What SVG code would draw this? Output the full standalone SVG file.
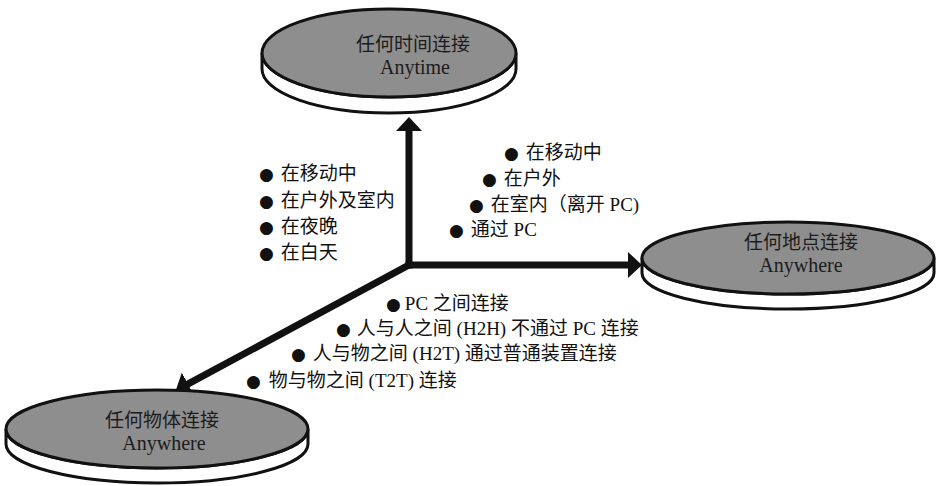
<svg xmlns="http://www.w3.org/2000/svg" width="936" height="486" viewBox="0 0 936 486">
<defs>
<style>
.rim{fill:#fff;stroke:#111;stroke-width:3}
.top{fill:#8e8e8e;stroke:#111;stroke-width:3}
.t{font-family:"Liberation Serif","Noto Sans CJK SC",serif;font-size:19px;fill:#111}
.dt{font-family:"Liberation Serif","Noto Sans CJK SC",serif;font-size:19px;fill:#1c1c1c;text-anchor:middle}
.de{font-family:"Liberation Serif",serif;font-size:20px;fill:#1c1c1c;text-anchor:middle}
.b{font-family:"DejaVu Sans",sans-serif;font-size:17px}
.arr{stroke:#111;stroke-width:7;fill:none;stroke-linecap:square;marker-end:url(#head)}
</style>
<marker id="head" viewBox="0 0 14 26" markerWidth="14" markerHeight="26" refX="0" refY="13" markerUnits="userSpaceOnUse" orient="auto">
<path d="M0,0 L14,13 L0,26 Z" fill="#111"/>
</marker>
</defs>

<g id="connectors">
<line class="arr" x1="409" y1="265" x2="409" y2="131"/>
<line class="arr" x1="409" y1="265" x2="628" y2="265"/>
<line class="arr" x1="409" y1="265" x2="188" y2="384"/>
</g>

<g id="node-anytime">
<path class="rim" d="M262,53 L262,69 A127,44 0 0 0 516,69 L516,53 A127,44 0 0 1 262,53 Z"/>
<ellipse class="top" cx="389" cy="53" rx="127" ry="44"/>
<text class="dt" x="413" y="51">任何时间连接</text>
<text class="de" x="415" y="74">Anytime</text>
</g>

<g id="node-anywhere-place">
<path class="rim" d="M642,258 L642,273 A146,36 0 0 0 934,273 L934,258 A146,36 0 0 1 642,258 Z"/>
<ellipse class="top" cx="788" cy="258" rx="146" ry="36"/>
<text class="dt" x="801" y="249">任何地点连接</text>
<text class="de" x="801" y="272">Anywhere</text>
</g>

<g id="node-anything">
<path class="rim" d="M6,429 L6,444 A151,39 0 0 0 308,444 L308,429 A151,39 0 0 1 6,429 Z"/>
<ellipse class="top" cx="157" cy="429" rx="151" ry="39"/>
<text class="dt" x="162" y="427">任何物体连接</text>
<text class="de" x="164" y="450">Anywhere</text>
</g>

<g id="list-time">
<text class="t" x="259" y="180"><tspan class="b">●</tspan><tspan dx="7">在移动中</tspan></text>
<text class="t" x="259" y="207"><tspan class="b">●</tspan><tspan dx="7">在户外及室内</tspan></text>
<text class="t" x="259" y="233"><tspan class="b">●</tspan><tspan dx="7">在夜晚</tspan></text>
<text class="t" x="259" y="259"><tspan class="b">●</tspan><tspan dx="7">在白天</tspan></text>
</g>

<g id="list-place">
<text class="t" x="504" y="159"><tspan class="b">●</tspan><tspan dx="7">在移动中</tspan></text>
<text class="t" x="482" y="185"><tspan class="b">●</tspan><tspan dx="7">在户外</tspan></text>
<text class="t" x="469" y="211"><tspan class="b">●</tspan><tspan dx="7">在室内（离开 PC)</tspan></text>
<text class="t" x="449" y="236"><tspan class="b">●</tspan><tspan dx="7">通过 PC</tspan></text>
</g>

<g id="list-thing">
<text class="t" x="386" y="310"><tspan class="b">●</tspan><tspan dx="4">PC 之间连接</tspan></text>
<text class="t" x="336" y="335"><tspan class="b">●</tspan><tspan dx="6">人与人之间 (H2H) 不通过 PC 连接</tspan></text>
<text class="t" x="291" y="360"><tspan class="b">●</tspan><tspan dx="7">人与物之间 (H2T) 通过普通装置连接</tspan></text>
<text class="t" x="246" y="387"><tspan class="b">●</tspan><tspan dx="8">物与物之间 (T2T) 连接</tspan></text>
</g>
</svg>
